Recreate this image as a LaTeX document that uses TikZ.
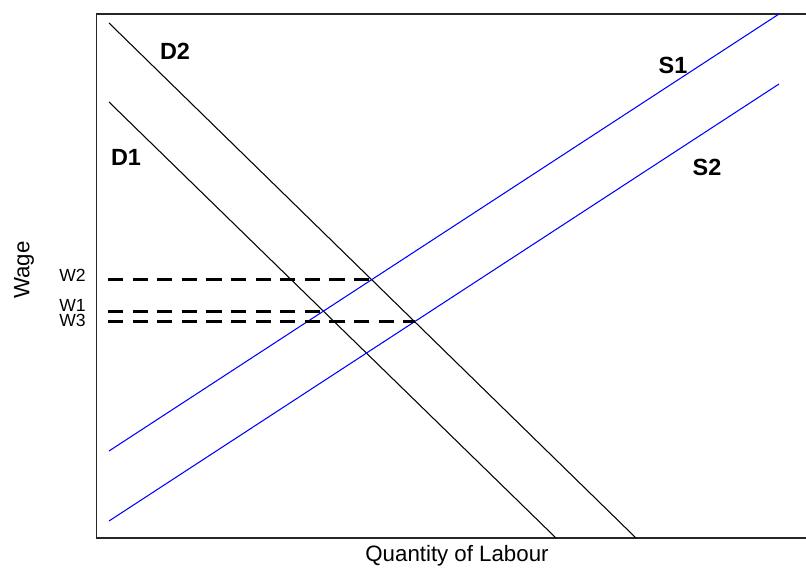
\documentclass[tikz,border=0pt]{standalone}
\usepackage{fontspec}
\setmainfont{Liberation Sans}
\usepackage{tikz}

\begin{document}
\begin{tikzpicture}[x=0.03cm, y=-0.03cm,
    demand/.style={black, line width=0.9pt},
    supply/.style={blue, line width=0.9pt},
    wageline/.style={black, line width=2.4pt, dash pattern=on 13pt off 8pt},
    curvelabel/.style={font=\fontsize{20}{20}\selectfont\bfseries},
    ticklabel/.style={font=\fontsize{15}{15}\selectfont, anchor=east, inner sep=0pt},
    axislabel/.style={font=\fontsize{19}{19}\selectfont}]
    \useasboundingbox (0,0) rectangle (806,569);

    % Frame
    \draw[gray!30!black, line width=0.9pt] (806,14) -- (96.5,14) -- (96.5,538) -- (806,538);

    % Demand curves
    \coordinate (d1a) at (109,102);
    \coordinate (d1b) at (556,538);
    \coordinate (d2a) at (109,23);
    \coordinate (d2b) at (636,538);
    \draw[demand] (d1a) -- (d1b);
    \draw[demand] (d2a) -- (d2b);

    % Supply curves
    \coordinate (s1a) at (109,451);
    \coordinate (s1b) at (779,14);
    \coordinate (s2a) at (109,521);
    \coordinate (s2b) at (779,84);
    \draw[supply] (s1a) -- (s1b);
    \draw[supply] (s2a) -- (s2b);

    % Equilibrium wages
    \coordinate (yaxis) at (108,0);
    \coordinate (eq1) at (intersection of d1a--d1b and s1a--s1b);
    \coordinate (eq2) at (intersection of d2a--d2b and s1a--s1b);
    \coordinate (eq3) at (intersection of d2a--d2b and s2a--s2b);
    \draw[wageline] (yaxis |- eq2) -- (eq2);
    \draw[wageline] (yaxis |- eq1) -- (eq1);
    \draw[wageline] (yaxis |- eq3) -- (eq3);

    \node[ticklabel] (w2) at (86,275) {W2};
    \node[ticklabel] (w1) at (86,305) {W1};
    \node[ticklabel] (w3) at (86,320) {W3};

    % Curve labels
    \node[curvelabel] (lbld2) at (175,51) {D2};
    \node[curvelabel] (lbld1) at (126,157) {D1};
    \node[curvelabel] (lbls1) at (673,65) {S1};
    \node[curvelabel] (lbls2) at (707,167) {S2};

    % Axis titles
    \node[axislabel, rotate=90] (ytitle) at (24,270) {Wage};
    \node[axislabel] (xtitle) at (457,556) {Quantity of Labour};
\end{tikzpicture}
\end{document}
